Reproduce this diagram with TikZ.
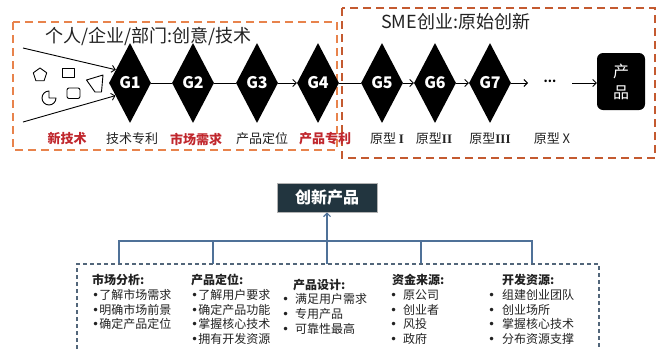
\documentclass[tikz,border=0pt]{standalone}
\usepackage{fontspec}
\setmainfont{Noto Sans CJK SC}
\newfontfamily\dvfont{DejaVu Sans}
\newfontfamily\romfont{Liberation Serif}
\newcommand{\bul}{{\dvfont •}}
\usetikzlibrary{shapes.geometric,arrows.meta}
\definecolor{orA}{HTML}{E8834C}
\definecolor{orB}{HTML}{C45A30}
\definecolor{redT}{HTML}{C0272D}
\definecolor{steel}{HTML}{4F7198}
\definecolor{dbox}{HTML}{22353F}
\definecolor{dashc}{HTML}{52667A}
\definecolor{txt}{HTML}{222222}
\begin{document}
\begin{tikzpicture}[x=1pt,y=-1pt,
  gem/.style={diamond, fill=black, minimum width=42pt, minimum height=80pt, inner sep=0pt, text=white, font=\bfseries\fontsize{16}{16}\selectfont},
  lab/.style={text=txt, font=\fontsize{13}{13}\selectfont, inner sep=0pt},
  redlab/.style={text=redT, font=\bfseries\fontsize{13}{13}\selectfont, inner sep=0pt},
  ttl/.style={text=txt, font=\fontsize{18}{18}\selectfont, inner sep=0pt, anchor=west},
  ln/.style={line width=0.9pt, black},
  arr/.style={ln, -{Straight Barb[length=3.5pt,width=7pt]}},
  shp/.style={line width=0.9pt, black, line join=round},
  boxA/.style={orA, line width=2.2pt, dash pattern=on 8pt off 5pt},
  boxB/.style={orB, line width=2.2pt, dash pattern=on 8pt off 5pt},
  sline/.style={steel, line width=1.2pt},
  col/.style={anchor=base west, inner sep=0pt, text=txt, font=\fontsize{12}{14.8}\selectfont},
]
\useasboundingbox (0,0) rectangle (658,349);

% dashed frames
\draw[boxA] (13,22) rectangle (337,150);
\draw[boxB] (342,8) rectangle (655,158);

% titles
\node[ttl] (t1) at (45,36) {个人/企业/部门:创意/技术};
\node[ttl] (t2) at (381,22) {SME创业:原始创新};

% diamonds
\node[gem] (G1) at (130,83) {G1};
\node[gem] (G2) at (193,83) {G2};
\node[gem] (G3) at (257,83) {G3};
\node[gem] (G4) at (318,83) {G4};
\node[gem] (G5) at (382,83) {G5};
\node[gem] (G6) at (435,83) {G6};
\node[gem] (G7) at (490,83) {G7};
\node[inner sep=0pt, font=\bfseries\fontsize{12}{12}\selectfont] (dots) at (550,81) {...};
\node[fill=black, rounded corners=6pt, minimum width=48pt, minimum height=57pt, inner sep=0pt, text=white, align=center, font=\fontsize{16}{21}\selectfont] (prod) at (621,81.5) {产\\品};

% connectors
\draw[ln] (G1) -- (G2);
\draw[ln] (G2) -- (G3);
\draw[arr] (G3) -- (G4);
\draw[ln] (G4) -- (G5);
\draw[arr] (G5) -- (G6);
\draw[arr] (G6) -- (G7);
\coordinate (e7) at (528,83);
\coordinate (s8) at (572,83);
\draw[arr] (G7.east) -- (e7);
\draw[arr] (s8) -- (prod.west |- s8);

% incoming arrows
\coordinate (a1) at (23,48);
\coordinate (a2) at (23,122);
\draw[arr] (a1) -- (G1.137);
\draw[arr] (a2) -- (G1.221);

% little shapes
\draw[shp] (40,68) -- (46.7,72.8) -- (44.1,80.7) -- (35.9,80.7) -- (33.3,72.8) -- cycle;
\draw[shp] (62,68) rectangle (74,77);
\draw[shp] (86.5,80) -- (103,75) -- (101.5,92) -- (95,92) -- cycle;
\draw[shp] (49,98) -- (56,98) arc (0:270:7) -- cycle;
\draw[shp, rounded corners=2pt] (67,88) rectangle (80,98.5);

% labels under diamonds
\node[redlab] (l0) at (67,139) {新技术};
\node[lab] (l1) at (132,139) {技术专利};
\node[redlab] (l2) at (196,139) {市场需求};
\node[lab] (l3) at (262,139) {产品定位};
\node[redlab] (l4) at (325,139) {产品专利};
\node[lab] (l5) at (387,139) {原型 {\romfont\bfseries I}};
\node[lab] (l6) at (434,139) {原型{\romfont\bfseries II}};
\node[lab] (l7) at (490,139) {原型{\romfont\bfseries III}};
\node[lab] (l8) at (552,139) {原型 X};

% bottom part
\node[fill=dbox, draw=gray!60, line width=0.6pt, minimum width=100pt, minimum height=29pt, inner sep=0pt, text=white, font=\bfseries\fontsize{16}{16}\selectfont] (cp) at (327,197.5) {创新产品};

\coordinate (b1) at (119,241);
\coordinate (b2) at (213,241);
\coordinate (b4) at (421,241);
\coordinate (b5) at (532,241);
\coordinate (bc) at (327,264);
\draw[sline] (b1 |- bc) -- (b1) -- (b5) -- (b5 |- bc);
\draw[sline] (b2) -- (b2 |- bc);
\draw[sline] (b4) -- (b4 |- bc);
\draw[sline, -{Straight Barb[length=3.5pt,width=7pt]}] (bc) -- (cp.south);

\draw[dashc, line width=1.1pt, dash pattern=on 4pt off 3pt] (77,349) -- (77,264) -- (599,264) -- (599,349);

\node[col] (c1) at (92,284.5) {\begin{tabular}[t]{@{}l@{}}\textbf{市场分析:}\\\bul 了解市场需求\\\bul 明确市场前景\\\bul 确定产品定位\end{tabular}};
\node[col] (c2) at (191,284.5) {\begin{tabular}[t]{@{}l@{}}\textbf{产品定位:}\\\bul 了解用户要求\\\bul 确定产品功能\\\bul 掌握核心技术\\\bul 拥有开发资源\end{tabular}};
\node[col] (c3) at (282,289) {\begin{tabular}[t]{@{}l@{}}\hspace{11pt}\textbf{产品设计:}\\\makebox[13pt][l]{\bul}满足用户需求\\\makebox[13pt][l]{\bul}专用产品\\\makebox[13pt][l]{\bul}可靠性最高\end{tabular}};
\node[col] (c4) at (390,284.5) {\begin{tabular}[t]{@{}l@{}}\hspace{2pt}\textbf{资金来源:}\\\makebox[13pt][l]{\bul}原公司\\\makebox[13pt][l]{\bul}创业者\\\makebox[13pt][l]{\bul}风投\\\makebox[13pt][l]{\bul}政府\end{tabular}};
\node[col] (c5) at (488,284.5) {\begin{tabular}[t]{@{}l@{}}\hspace{14pt}\textbf{开发资源:}\\\makebox[14pt][l]{\bul}组建创业团队\\\makebox[14pt][l]{\bul}创业场所\\\makebox[14pt][l]{\bul}掌握核心技术\\\makebox[14pt][l]{\bul}分布资源支撑\end{tabular}};
\end{tikzpicture}
\end{document}
